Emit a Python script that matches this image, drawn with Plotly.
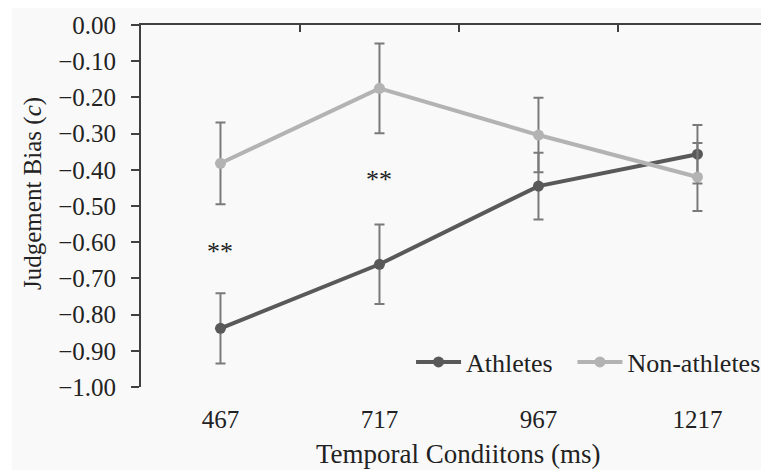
import plotly.graph_objects as go

conditions = ["467", "717", "967", "1217"]
athletes = [-0.838, -0.661, -0.445, -0.357]
athletes_err = [0.097, 0.110, 0.092, 0.081]
non_athletes = [-0.382, -0.175, -0.304, -0.420]
non_athletes_err = [0.113, 0.124, 0.103, 0.094]
sig_conditions = ["467", "717"]
sig_y = [-0.625, -0.428]
sig_text = ["**", "**"]

FONT = "Liberation Serif"
BG = "#f9f9f9"
ERR = "#7a7a7a"

fig = go.Figure()
fig.add_trace(go.Scatter(
    x=conditions, y=athletes, name="Athletes", mode="lines+markers",
    line=dict(color="#595959", width=4), marker=dict(size=11, color="#595959"),
    error_y=dict(type="data", array=athletes_err, color=ERR, thickness=2, width=5),
    legend="legend",
))
fig.add_trace(go.Scatter(
    x=conditions, y=non_athletes, name="Non-athletes", mode="lines+markers",
    line=dict(color="#b3b3b3", width=4), marker=dict(size=11, color="#b3b3b3"),
    error_y=dict(type="data", array=non_athletes_err, color=ERR, thickness=2, width=5),
    legend="legend2",
))
# helper trace to register categories on the top axis
fig.add_trace(go.Scatter(
    x=conditions, y=athletes, xaxis="x2", mode="markers",
    marker=dict(opacity=0), showlegend=False, hoverinfo="skip",
))

for c, yv, t in zip(sig_conditions, sig_y, sig_text):
    fig.add_annotation(x=conditions.index(c), y=yv, text=t, showarrow=False,
                       font=dict(family=FONT, size=26, color="#222"))

fig.add_annotation(xref="paper", yref="paper", x=-0.172, y=0.536,
                   xanchor="center", yanchor="middle",
                   text="Judgement Bias (<i>c</i>)", textangle=-90, showarrow=False,
                   font=dict(family=FONT, size=25, color="#222"))
fig.add_annotation(xref="paper", yref="paper", x=0.506, y=-0.185,
                   xanchor="center", yanchor="middle",
                   text="Temporal Condiitons (ms)", showarrow=False,
                   font=dict(family=FONT, size=27, color="#222"))

fig.add_shape(type="rect", xref="paper", yref="paper", x0=-0.2054, x1=1.01,
              y0=-0.3, y1=1.1, fillcolor=BG, line=dict(width=0), layer="below")

legend_style = dict(orientation="h", yanchor="middle", xanchor="left",
                    bgcolor="rgba(0,0,0,0)", itemwidth=45,
                    font=dict(family=FONT, size=26, color="#222"))

fig.update_layout(
    width=761, height=462,
    margin=dict(l=133, r=0, t=17, b=83, autoexpand=False),
    paper_bgcolor="white", plot_bgcolor="rgba(0,0,0,0)",
    font=dict(family=FONT, size=25, color="#222"),
    showlegend=True,
    legend=dict(x=0.43, y=0.069, **legend_style),
    legend2=dict(x=0.687, y=0.069, **legend_style),
    xaxis=dict(type="category", categoryarray=conditions, range=[-0.5, 3.45],
               showline=False, ticks="", showgrid=False, zeroline=False,
               automargin=False, ticklabelstandoff=15),
    xaxis2=dict(type="category", categoryarray=conditions, overlaying="x", matches="x",
                side="top", showline=True, linecolor="#404040", linewidth=2,
                ticks="inside", tickson="boundaries", ticklen=7, tickwidth=2,
                automargin=False,
                tickcolor="#404040", showticklabels=False, showgrid=False, zeroline=False),
    yaxis=dict(range=[-1.0, 0.0], dtick=0.1, tick0=0, tickformat=".2f",
               showline=True, linecolor="#404040", linewidth=2,
               ticks="outside", ticklen=8, tickwidth=2, tickcolor="#404040",
               automargin=False,
               ticklabelstandoff=10, showgrid=False, zeroline=False,
               tickfont=dict(family=FONT, size=25)),
)

fig.write_html("out.html")
